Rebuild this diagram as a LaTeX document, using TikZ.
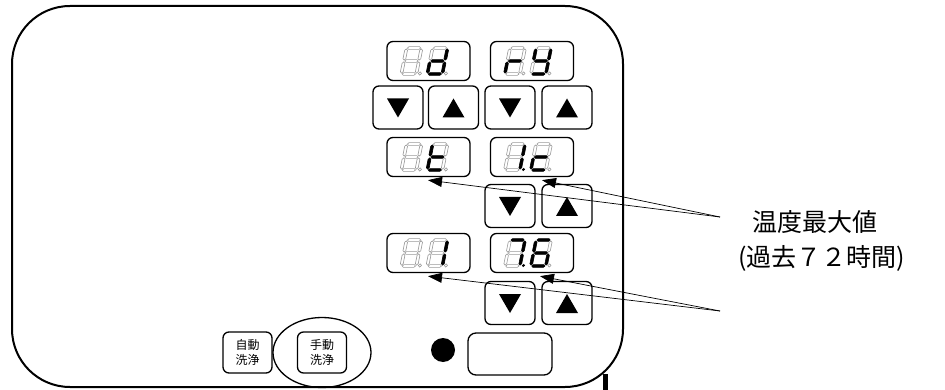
\documentclass[tikz,border=0pt]{standalone}
\usepackage{fontspec}
\newfontfamily\jp{Noto Sans CJK JP}
\usetikzlibrary{arrows.meta,calc}
\tikzset{
  frame/.style={line width=2pt, rounded corners=58pt},
  dispbox/.style={draw, line width=1.3pt, rounded corners=6pt, minimum width=83pt, minimum height=39pt, inner sep=0pt},
  btn/.style={draw, line width=1.3pt, rounded corners=6pt, minimum width=50pt, minimum height=43pt, inner sep=0pt},
  smallbtn/.style={draw, line width=1.3pt, rounded corners=6pt, minimum width=49pt, minimum height=41pt, inner sep=0pt, align=center, font=\jp\fontsize{12}{15}\selectfont},
  seg0/.style={draw=gray!80, line width=0.6pt, fill=white},
  seg1/.style={draw=black, line width=0.6pt, fill=black},
  dot0/.style={draw=gray!80, line width=0.6pt},
  dot1/.style={fill=black},
  ptr/.style={line width=0.7pt, -{Triangle[length=14pt,width=10pt]}},
  lab/.style={anchor=west, inner sep=0pt, font=\jp\fontsize{25}{25}\selectfont},
}
\newcommand\hsegp[1]{(0.9,{-(#1)}) -- (2.3,{-(#1)-1.4}) -- (12.7,{-(#1)-1.4}) -- (14.1,{-(#1)}) -- (12.7,{-(#1)+1.4}) -- (2.3,{-(#1)+1.4}) -- cycle}
\newcommand\vsegp[3]{(#1,{-(#2)-0.9}) -- ({#1+1.4},{-(#2)-2.3}) -- ({#1+1.4},{-(#3)+2.3}) -- (#1,{-(#3)+0.9}) -- ({#1-1.4},{-(#3)+2.3}) -- ({#1-1.4},{-(#2)-2.3}) -- cycle}
\def\sdigitflags#1#2#3#4#5#6#7\relax{%
  \path[seg#1] \hsegp{26};
  \path[seg#2] \vsegp{15}{13}{26};
  \path[seg#3] \vsegp{15}{0}{13};
  \path[seg#4] \hsegp{0};
  \path[seg#5] \vsegp{0}{0}{13};
  \path[seg#6] \vsegp{0}{13}{26};
  \path[seg#7] \hsegp{13};
}
\newcommand\sdigit[3]{\begin{scope}[shift={#1},xslant=0.2]\sdigitflags#2\relax
  \path[dot#3] (18.5,-0.5) circle[radius=1.6];\end{scope}}
\newcommand\sdisp[6]{% name, center, flags1, dot1, flags2
  \node[dispbox] (#1) at #2 {};
  \sdigit{($(#1.west)+(15,13)$)}{#3}{#4}
  \sdigit{($(#1.west)+(41,13)$)}{#5}{0}
}
\newcommand\downbtn[2]{\node[btn] (#1) at #2 {};
  \fill ($(#1.center)+(-11,-9)$) -- ++(22,0) -- ++(-11,19) -- cycle;}
\newcommand\upbtn[2]{\node[btn] (#1) at #2 {};
  \fill ($(#1.center)+(-11,10)$) -- ++(22,0) -- ++(-11,-19) -- cycle;}
\begin{document}
\begin{tikzpicture}[x=1pt,y=-1pt]
\useasboundingbox (0,0) rectangle (945,390);
% outer frame
\draw[frame] (12,6) rectangle (623,387);
\draw[line width=4.5pt] (605.5,374) -- (605.5,390);
% row 1
\sdisp{d1}{(428.5,61)}{0000000}{0}{0111101}{}
\sdisp{d2}{(532,61)}{0000101}{0}{0111011}{}
\downbtn{b1}{(398,107.5)}
\upbtn{b2}{(453.5,107.5)}
\downbtn{b3}{(510,107.5)}
\upbtn{b4}{(567,107.5)}
% row 2
\sdisp{d3}{(428.5,157)}{0000000}{0}{0001111}{}
\sdisp{d4}{(532,157)}{0110000}{1}{0001101}{}
\downbtn{b5}{(510,206)}
\upbtn{b6}{(567,206)}
% row 3
\sdisp{d5}{(428.5,253)}{0000000}{0}{0110000}{}
\sdisp{d6}{(532,253)}{1110000}{1}{1011111}{}
\downbtn{b7}{(510,303)}
\upbtn{b8}{(567,303)}
% bottom controls
\node[smallbtn] (auto) at (247.5,352.5) {自動\\洗浄};
\node[smallbtn] (manual) at (322,352.5) {手動\\洗浄};
\draw[line width=1.3pt] (manual.center) ellipse[x radius=49, y radius=35];
\fill (443,350) circle[radius=12];
\node[draw, line width=1.3pt, rounded corners=8pt, minimum width=84pt, minimum height=42pt] (win) at (510,354) {};
% labels and pointers
\node[lab] (lab1) at (752,222) {温度最大値};
\node[lab] (lab2) at (738,258) {(過去７２時間)};
\coordinate (c1) at (720,217);
\coordinate (c2) at (720,311);
\draw[ptr] (c1) -- ($(d3.south)+(-0.5,3)$);
\draw[ptr] (c1) -- ($(d4.south)+(10,3)$);
\draw[ptr] (c2) -- ($(d5.south)+(-0.5,3)$);
\draw[ptr] (c2) -- ($(d6.south)+(8,3)$);
\end{tikzpicture}
\end{document}
